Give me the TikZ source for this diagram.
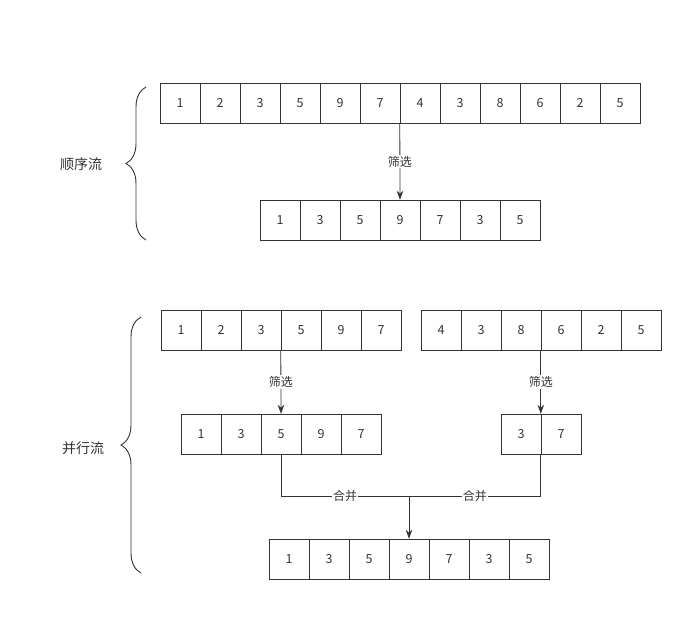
\documentclass[tikz,border=0pt]{standalone}
\usepackage{fontspec}
\newfontfamily\cjk{Noto Sans CJK SC}
\usetikzlibrary{arrows.meta, positioning, decorations.pathreplacing}
\definecolor{ink}{HTML}{333333}

\begin{document}
\begin{tikzpicture}[x=1pt, y=-1pt,
        cell/.style={draw=ink, minimum width=40pt, minimum height=40pt, inner sep=0pt,
            font=\cjk\fontsize{12.5}{14}\selectfont, text=ink},
        lbl/.style={font=\cjk\fontsize{12}{14}\selectfont, text=ink, fill=white, inner sep=1pt},
        side/.style={font=\cjk\fontsize{14}{16}\selectfont, text=ink},
        brace/.style={draw=ink, line width=0.9pt, decorate, decoration={brace, amplitude=20pt}},
        line/.style={draw=ink, line width=0.8pt},
        >={Stealth[length=9pt, width=6.5pt]}]
    \useasboundingbox (0,0) rectangle (699,626);

    % sequential stream
    \foreach \v [count=\i] in {1,2,3,5,9,7,4,3,8,6,2,5}
        \node[cell] (s\i) at ({140+40*\i},103) {\v};
    \foreach \v [count=\i] in {1,3,5,9,7,3,5}
        \node[cell] (t\i) at ({240+40*\i},220) {\v};
    \draw[line, ->] (s7.south west) -- node[lbl] {筛选} (t4.north);

    \node[side] (seq) at (81,164) {顺序流};
    \draw[brace] (146,240) -- (146,87);

    % parallel stream
    \foreach \v [count=\i] in {1,2,3,5,9,7}
        \node[cell] (p\i) at ({141+40*\i},330) {\v};
    \foreach \v [count=\i] in {4,3,8,6,2,5}
        \node[cell] (q\i) at ({401+40*\i},330) {\v};
    \foreach \v [count=\i] in {1,3,5,9,7}
        \node[cell] (f\i) at ({161+40*\i},434) {\v};
    \foreach \v [count=\i] in {3,7}
        \node[cell] (g\i) at ({481+40*\i},434) {\v};
    \foreach \v [count=\i] in {1,3,5,9,7,3,5}
        \node[cell] (b\i) at ({249+40*\i},559) {\v};

    \draw[line, ->] (p4.south west) -- node[lbl] {筛选} (f3.north);
    \draw[line, ->] (q4.south west) -- node[lbl] {筛选} (g2.north west);

    \coordinate (m) at (b4.north |- 0,496);
    \draw[line] (f3.south) |- node[lbl, pos=0.75] {合并} (m);
    \draw[line] (g2.south west) |- node[lbl, pos=0.75] {合并} (m);
    \draw[line, ->] (m) -- (b4.north);

    \node[side] (par) at (83,448) {并行流};
    \draw[brace] (141,573) -- (141,317);

\end{tikzpicture}
\end{document}
